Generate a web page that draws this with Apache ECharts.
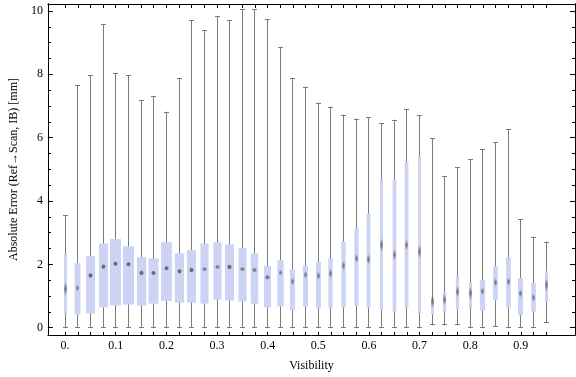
<!DOCTYPE html>
<html>
<head>
<meta charset="utf-8">
<title>Absolute error vs visibility</title>
<script src="https://cdn.jsdelivr.net/npm/echarts@6/dist/echarts.min.js"></script>
<style>
  html, body { margin: 0; padding: 0; background: #fff; }
  #chart { width: 576px; height: 377px; }
</style>
</head>
<body>
<div id="chart"></div>
<script>
  // one box per visibility step
  var visibility = [0, 0.025, 0.05, 0.075, 0.1, 0.125, 0.15, 0.175, 0.2, 0.225,
    0.25, 0.275, 0.3, 0.325, 0.35, 0.375, 0.4, 0.425, 0.45, 0.475,
    0.5, 0.525, 0.55, 0.575, 0.6, 0.625, 0.65, 0.675, 0.7, 0.725,
    0.75, 0.775, 0.8, 0.825, 0.85, 0.875, 0.9, 0.925, 0.95];
  var whiskerLow = [0, 0, 0, 0, 0, 0, 0, 0, 0, 0,
    0, 0, 0, 0, 0, 0, 0, 0, 0, 0,
    0, 0, 0, 0, 0, 0, 0, 0, 0, 0.07,
    0.07, 0.07, 0, 0, 0.03, 0, 0, 0, 0.16];
  var q1 = [0.42, 0.42, 0.45, 0.64, 0.70, 0.73, 0.70, 0.76, 0.85, 0.79,
    0.79, 0.76, 0.89, 0.86, 0.83, 0.76, 0.64, 0.67, 0.54, 0.67,
    0.61, 0.64, 0.64, 0.70, 0.64, 0.54, 0.51, 0.64, 0.45, 0.42,
    0.51, 0.57, 0.61, 0.54, 0.86, 0.64, 0.39, 0.51, 0.83];
  var median = [1.22, 1.25, 1.65, 1.93, 2.02, 2.00, 1.73, 1.73, 1.88, 1.78,
    1.82, 1.85, 1.92, 1.92, 1.85, 1.82, 1.59, 1.74, 1.46, 1.67,
    1.64, 1.71, 1.96, 2.19, 2.16, 2.61, 2.30, 2.61, 2.40, 0.83,
    0.89, 1.14, 1.09, 1.15, 1.43, 1.45, 1.08, 0.95, 1.35];
  var q3 = [2.32, 2.04, 2.26, 2.66, 2.80, 2.57, 2.23, 2.19, 2.70, 2.35,
    2.45, 2.66, 2.70, 2.63, 2.51, 2.35, 1.95, 2.13, 1.85, 1.97,
    2.07, 2.19, 2.72, 3.13, 3.60, 4.69, 4.66, 5.24, 5.42, 0.89,
    1.12, 1.63, 1.43, 1.50, 1.94, 2.23, 1.57, 1.41, 1.79];
  var whiskerHigh = [3.55, 7.66, 7.97, 9.58, 8.05, 7.97, 7.18, 7.32, 6.82, 7.89,
    9.71, 9.40, 9.84, 9.71, 10.05, 10.05, 9.74, 8.86, 7.89, 7.61,
    7.11, 6.98, 6.73, 6.60, 6.64, 6.45, 6.57, 6.89, 6.70, 5.98,
    4.79, 5.07, 5.32, 5.63, 5.85, 6.26, 3.42, 2.87, 2.72];
  // relative sample weight, sets the box width
  var weight = [0.27, 0.53, 0.82, 0.83, 1.0, 1.0, 0.84, 0.9, 0.98, 0.83,
    0.82, 0.74, 0.75, 0.82, 0.73, 0.68, 0.64, 0.58, 0.47, 0.47,
    0.45, 0.39, 0.39, 0.39, 0.36, 0.27, 0.34, 0.34, 0.27, 0.27,
    0.3, 0.3, 0.27, 0.48, 0.43, 0.43, 0.45, 0.43, 0.27];

  var xTickLabels = [0, 0.1, 0.2, 0.3, 0.4, 0.5, 0.6, 0.7, 0.8, 0.9];
  var yTickLabels = [0, 2, 4, 6, 8, 10];
  var yMinorTicks = [0.5, 1, 1.5, 2.5, 3, 3.5, 4.5, 5, 5.5, 6.5, 7, 7.5, 8.5, 9, 9.5];

  var MAX_BOX = 11;
  var FONT = 'Liberation Serif';
  var MED = '108,108,108';

  var rows = visibility.map(function (v, i) {
    return [v, whiskerLow[i], q1[i], median[i], q3[i], whiskerHigh[i], weight[i]];
  });

  function renderBox (params, api) {
    var x = api.value(0);
    var pLow = api.coord([x, api.value(1)]);
    var pQ1 = api.coord([x, api.value(2)]);
    var pMed = api.coord([x, api.value(3)]);
    var pQ3 = api.coord([x, api.value(4)]);
    var pHigh = api.coord([x, api.value(5)]);
    var w = api.value(6) * MAX_BOX;
    // snap the whisker to the pixel grid so it stays crisp
    var cx = Math.round(pLow[0] - 0.5) + 0.5;
    var lineStyle = { stroke: '#7a7a7a', lineWidth: 1 };
    var ry = Math.max(2, 20 / w);
    var rx = w >= 7 ? 2 : 1.2;
    var medFill = ry <= 2.3 ? 'rgb(' + MED + ')' : new echarts.graphic.LinearGradient(0, 0, 0, 1, [
      { offset: 0, color: 'rgba(' + MED + ',0.1)' },
      { offset: 0.5, color: 'rgba(' + MED + ',1)' },
      { offset: 1, color: 'rgba(' + MED + ',0.1)' }
    ]);
    return {
      type: 'group',
      children: [
        { type: 'line', shape: { x1: cx, y1: pLow[1], x2: cx, y2: pHigh[1] }, style: lineStyle },
        { type: 'line', shape: { x1: cx - 2.5, y1: Math.round(pHigh[1]) + 0.5, x2: cx + 2.5, y2: Math.round(pHigh[1]) + 0.5 }, style: lineStyle },
        { type: 'line', shape: { x1: cx - 2.5, y1: Math.round(pLow[1]) - 0.5, x2: cx + 2.5, y2: Math.round(pLow[1]) - 0.5 }, style: lineStyle },
        { type: 'rect', shape: { x: cx - w / 2, y: pQ3[1], width: w, height: pQ1[1] - pQ3[1] },
          style: { fill: '#ccd3f5' } },
        { type: 'ellipse', shape: { cx: cx, cy: pMed[1], rx: rx, ry: ry }, style: { fill: medFill } }
      ]
    };
  }

  function xAxisDef (pos, withLabels, tickLen) {
    return {
      type: 'value',
      position: pos,
      min: -0.034,
      max: 1.007,
      name: withLabels ? 'Visibility' : '',
      nameLocation: 'middle',
      nameGap: 25,
      nameTextStyle: { fontFamily: FONT, fontSize: 12, color: '#000' },
      axisLine: { show: true, onZero: false, lineStyle: { color: '#000', width: 1 } },
      axisTick: { show: true, inside: true, length: tickLen, customValues: visibility,
        lineStyle: { color: '#000' } },
      axisLabel: {
        show: withLabels,
        customValues: xTickLabels,
        margin: 5,
        fontFamily: FONT, fontSize: 12, color: '#000',
        formatter: function (v) { return v === 0 ? '0.' : v.toFixed(1); }
      },
      splitLine: { show: false }
    };
  }

  function yAxisDef (pos, ticks, withLabels, tickLen) {
    return {
      type: 'value',
      position: pos,
      min: -0.23,
      max: 10.22,
      name: withLabels ? 'Absolute Error (Ref\u2192Scan, IB) [mm]' : '',
      nameLocation: 'middle',
      nameGap: 22,
      nameTextStyle: { fontFamily: FONT, fontSize: 12, color: '#000' },
      axisLine: { show: true, onZero: false, lineStyle: { color: '#000', width: 1 } },
      axisTick: { show: true, inside: true, length: tickLen, customValues: ticks,
        lineStyle: { color: '#000' } },
      axisLabel: {
        show: withLabels,
        customValues: ticks,
        margin: 5,
        fontFamily: FONT, fontSize: 12, color: '#000'
      },
      splitLine: { show: false }
    };
  }

  var chart = echarts.init(document.getElementById('chart'), null, { renderer: 'canvas' });
  chart.setOption({
    animation: false,
    backgroundColor: '#fff',
    grid: { left: 36, right: 1, top: 4, bottom: 40 },
    xAxis: [
      xAxisDef('bottom', true, 3),
      xAxisDef('top', false, 4)
    ],
    yAxis: [
      yAxisDef('left', yTickLabels, true, 5),
      yAxisDef('right', yTickLabels, false, 5),
      yAxisDef('left', yMinorTicks, false, 3),
      yAxisDef('right', yMinorTicks, false, 3)
    ],
    series: [{
      type: 'custom',
      xAxisIndex: 0,
      yAxisIndex: 0,
      renderItem: renderBox,
      encode: { x: 0, y: [1, 2, 3, 4, 5] },
      data: rows
    }]
  });
</script>
</body>
</html>
